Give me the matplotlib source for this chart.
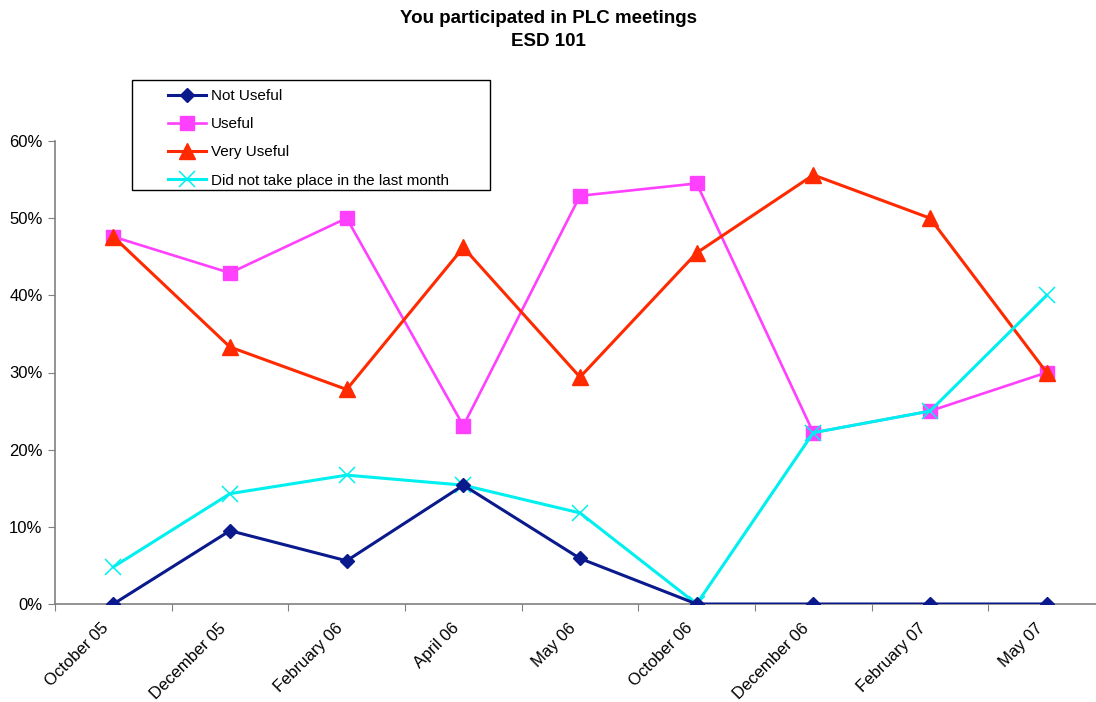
import matplotlib
matplotlib.use("Agg")
import matplotlib.pyplot as plt
from matplotlib.ticker import FuncFormatter, FixedLocator
from matplotlib.transforms import ScaledTranslation
from matplotlib.patches import Rectangle
import numpy as np

plt.rcParams['font.family'] = ['Liberation Sans', 'DejaVu Sans']

categories = ["October 05", "December 05", "February 06", "April 06", "May 06",
              "October 06", "December 06", "February 07", "May 07"]
not_useful = [0.0, 9.5, 5.6, 15.4, 5.9, 0.0, 0.0, 0.0, 0.0]
useful = [47.6, 42.9, 50.0, 23.1, 52.9, 54.5, 22.2, 25.0, 30.0]
very_useful = [47.6, 33.3, 27.8, 46.2, 29.4, 45.5, 55.6, 50.0, 30.0]
did_not_take_place = [4.8, 14.3, 16.7, 15.4, 11.8, 0.0, 22.2, 25.0, 40.0]

title = "You participated in PLC meetings\nESD 101"

W, H = 1096, 702
fig = plt.figure(figsize=(W / 100, H / 100), dpi=100)
ax = fig.add_axes([55 / W, 1 - 604 / H, 1050 / W, (604 - 141) / H])

x = np.arange(len(categories))
ax.plot(x, useful, color="#FF40FF", lw=1.9, marker="s", ms=10, label="Useful", zorder=3)
ax.plot(x, very_useful, color="#FF2A00", lw=2.2, marker="^", ms=11, label="Very Useful", zorder=4)
ax.plot(x, did_not_take_place, color="#00F0F0", lw=2.2, marker="x", ms=11, mew=1.1,
        label="Did not take place in the last month", zorder=5)
ax.plot(x, not_useful, color="#0A1A8C", lw=2.2, marker="D", ms=7, label="Not Useful", zorder=6)

ax.set_xlim(-0.5, len(categories) - 0.5)
ax.set_ylim(0, 60)
ax.yaxis.set_major_locator(FixedLocator([0, 10, 20, 30, 40, 50, 60]))
ax.yaxis.set_major_formatter(FuncFormatter(lambda v, p: f"{int(round(v))}%"))

ax.xaxis.set_major_locator(FixedLocator(np.arange(-0.5, len(categories), 1.0)))
ax.xaxis.set_major_formatter(FuncFormatter(lambda v, p: ""))
ax.set_xticks(x, minor=True)
ax.set_xticklabels(categories, minor=True, rotation=45, ha="right", va="top",
                   rotation_mode="anchor")
ax.tick_params(axis="x", which="major", direction="out", length=5, color="#808080")
ax.tick_params(axis="x", which="minor", length=0, pad=12, labelsize=12)
ax.tick_params(axis="y", direction="out", length=5, color="#808080", labelsize=12, pad=4)

offset = ScaledTranslation(-0.12, 0, fig.dpi_scale_trans)
for lab in ax.get_xticklabels(minor=True):
    lab.set_transform(lab.get_transform() + offset)

for s in ["top", "right"]:
    ax.spines[s].set_visible(False)
for s in ["left", "bottom"]:
    ax.spines[s].set_color("#808080")
    ax.spines[s].set_linewidth(1.2)

fig.text(548 / W, 1 - 10 / H, title, ha="center", va="top", fontsize=13.5,
         fontweight="bold", linespacing=1.45)

handles, labels = ax.get_legend_handles_labels()
order = ["Not Useful", "Useful", "Very Useful", "Did not take place in the last month"]
hmap = dict(zip(labels, handles))
leg = fig.legend([hmap[o] for o in order], order, loc="upper left",
                 bbox_to_anchor=(168 / W, 1 - 89 / H), fontsize=11,
                 frameon=False, handlelength=2.5, handletextpad=0.3,
                 labelspacing=0.93, borderpad=0, borderaxespad=0)
fig.patches.append(Rectangle((132 / W, 1 - 190 / H), (490 - 132) / W, 110 / H,
                             transform=fig.transFigure, fill=False,
                             edgecolor="black", linewidth=1.0, zorder=10))

fig.savefig("out.png", dpi=100)
